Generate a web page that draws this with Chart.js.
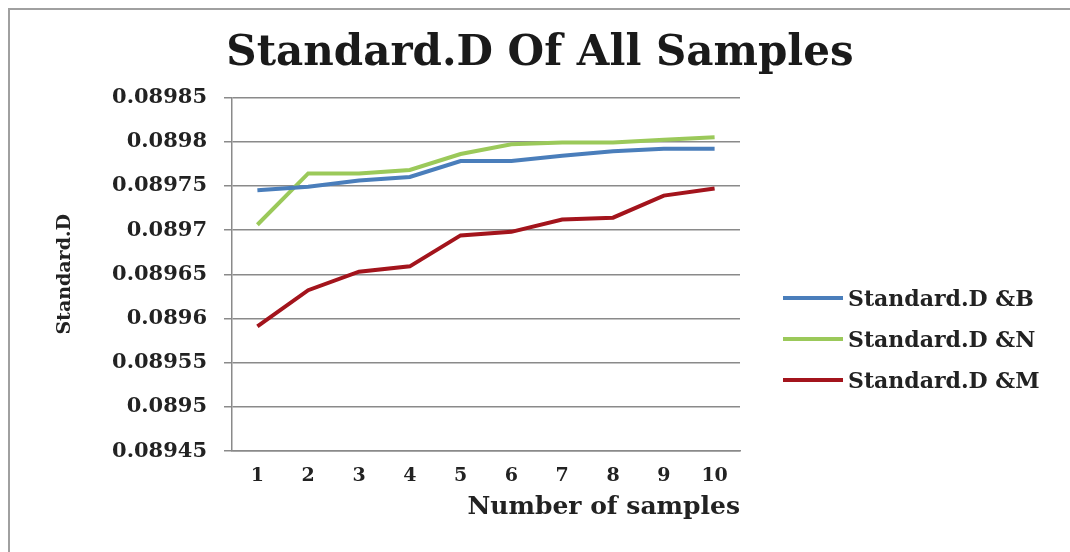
<!DOCTYPE html>
<html>
<head>
<meta charset="utf-8">
<script src="https://cdn.jsdelivr.net/npm/chart.js@4"></script>
<style>
  html, body { margin: 0; padding: 0; background: #fff; }
  #wrap { position: relative; width: 1070px; height: 552px; }
  #frame {
    position: absolute; left: 8px; top: 8px; right: 0; bottom: 0;
    border-left: 2px solid #a0a0a0; border-top: 2px solid #a0a0a0;
    pointer-events: none;
  }
  #legend {
    position: absolute; left: 783px; top: 277px;
    font: bold 22px 'DejaVu Serif', 'Liberation Serif', serif;
    color: #222;
  }
  .legend-row { height: 41px; display: flex; align-items: center; white-space: nowrap; }
  .legend-swatch { width: 60px; height: 4px; margin-right: 5px; }
</style>
</head>
<body>
<div id="wrap">
  <canvas id="chart" width="1070" height="552"></canvas>
  <div id="legend"></div>
  <div id="frame"></div>
</div>
<script>
// --- Data ---
const sampleLabels = ["1", "2", "3", "4", "5", "6", "7", "8", "9", "10"];
const stdB = [0.089745, 0.089749, 0.089756, 0.08976, 0.089778, 0.089778, 0.089784, 0.089789, 0.089792, 0.089792];
const stdN = [0.089706, 0.089764, 0.089764, 0.089768, 0.089786, 0.089797, 0.089799, 0.089799, 0.089802, 0.089805];
const stdM = [0.089591, 0.089632, 0.089653, 0.089659, 0.089694, 0.089698, 0.089712, 0.089714, 0.089739, 0.089747];
const seriesNames = ["Standard.D &B", "Standard.D &N", "Standard.D &M"];
const yMin = 0.08945;
const yMax = 0.08985;
const yStep = 0.00005;

const FONT = "'DejaVu Serif', 'Liberation Serif', serif";
const GRID = "#8a8a8a";
const INK = "#222";

function lineSet(label, data, color) {
  return {
    label: label,
    data: data,
    borderColor: color,
    backgroundColor: color,
    borderWidth: 4,
    pointRadius: 0,
    tension: 0
  };
}

// --- HTML legend (the canvas legend can't get wide enough on the right) ---
function buildLegend(chart) {
  const box = document.getElementById("legend");
  box.innerHTML = "";
  const items = Chart.defaults.plugins.legend.labels.generateLabels(chart);
  items.forEach((item) => {
    const row = document.createElement("div");
    row.className = "legend-row";

    const swatch = document.createElement("span");
    swatch.className = "legend-swatch";
    swatch.style.background = item.strokeStyle;

    const text = document.createElement("span");
    text.textContent = item.text;

    row.appendChild(swatch);
    row.appendChild(text);
    box.appendChild(row);
  });
}

const ctx = document.getElementById("chart");
const chart = new Chart(ctx, {
  type: "line",
  data: {
    labels: sampleLabels,
    datasets: [
      lineSet(seriesNames[0], stdB, "#4a7ebb"),
      lineSet(seriesNames[1], stdN, "#9bc95a"),
      lineSet(seriesNames[2], stdM, "#a3141c")
    ]
  },
  options: {
    responsive: false,
    animation: false,
    layout: { padding: { left: 10, right: 0, top: 0, bottom: 30 } },
    scales: {
      x: {
        offset: true,
        grid: { display: false },
        border: { display: true, color: GRID, width: 1.5 },
        ticks: { color: INK, font: { family: FONT, size: 19, weight: "bold" }, padding: 5 },
        title: {
          display: true,
          text: "Number of samples",
          align: "end",
          color: INK,
          font: { family: FONT, size: 25, weight: "bold" },
          padding: { top: 0, bottom: 0 }
        }
      },
      y: {
        min: yMin,
        max: yMax,
        afterFit: (scale) => { scale.width = 222; },
        grid: { color: GRID, lineWidth: 1.5, tickLength: 8 },
        border: { color: GRID, width: 1.5 },
        ticks: {
          stepSize: yStep,
          color: INK,
          padding: 17,
          font: { family: FONT, size: 21, weight: "bold" },
          callback: (v) => String(+v.toFixed(5))
        },
        title: {
          display: true,
          text: "Standard.D",
          color: INK,
          font: { family: FONT, size: 19, weight: "bold" },
          padding: { top: 44, bottom: 0 }
        }
      },
      // empty strip on the right where the legend sits
      legendRoom: {
        position: "right",
        display: true,
        grid: { display: false, drawOnChartArea: false },
        border: { display: false },
        ticks: { display: false },
        afterFit: (scale) => { scale.width = 330; }
      }
    },
    plugins: {
      title: {
        display: true,
        text: "Standard.D Of All Samples",
        color: "#1a1a1a",
        font: { family: FONT, size: 42, weight: "bold" },
        padding: { top: 29, bottom: 18 }
      },
      legend: { display: false },
      tooltip: { enabled: false }
    }
  }
});

buildLegend(chart);
</script>
</body>
</html>
